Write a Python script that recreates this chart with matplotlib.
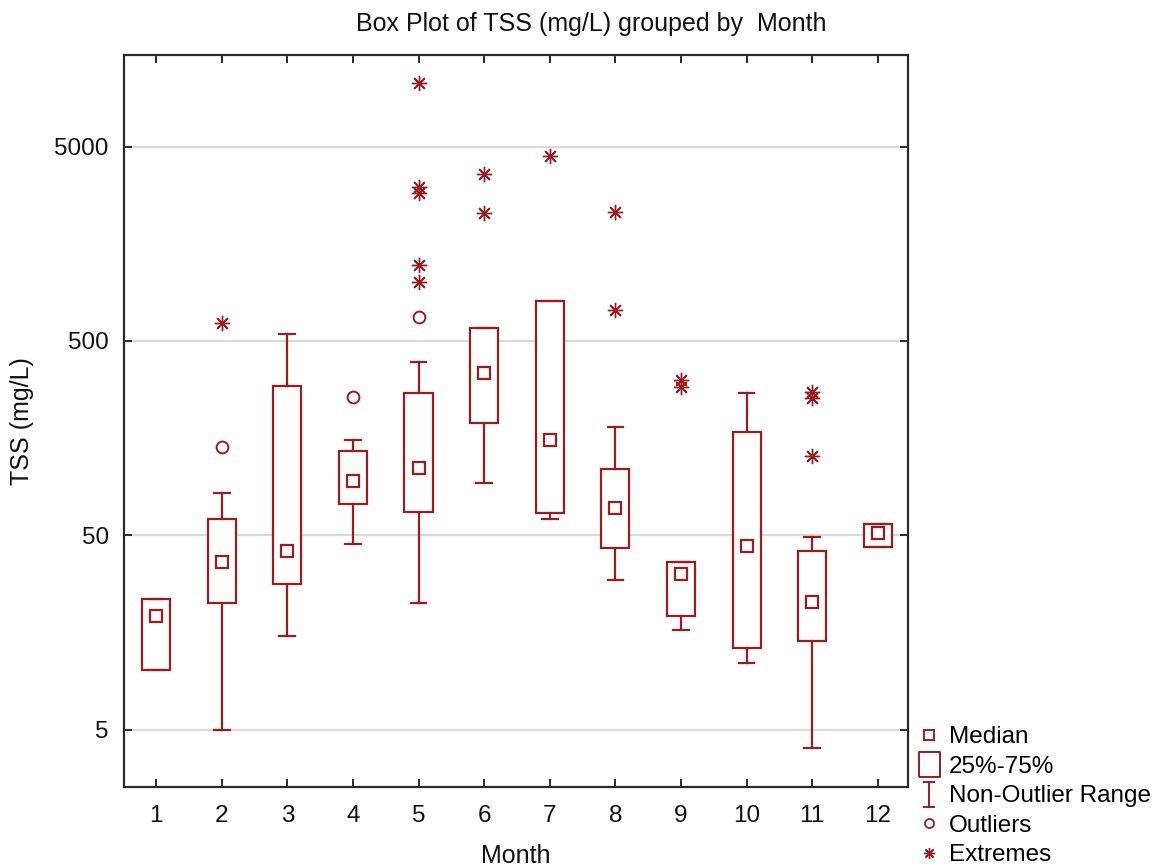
import matplotlib
matplotlib.use("Agg")
import matplotlib.pyplot as plt
from matplotlib.lines import Line2D
from matplotlib.path import Path
from matplotlib.ticker import NullLocator, FixedLocator, FixedFormatter

plt.rcParams['font.family'] = ['Liberation Sans', 'DejaVu Sans']

# box statistics per month (mg/L)
months = [1, 2, 3, 4, 5, 6, 7, 8, 9, 10, 11, 12]
medians = [19.2, 36.5, 41.4, 95, 110.4, 343, 154.5, 69.0, 31.4, 44.1, 22.7, 51.1]
q1 = [10.1, 22.3, 28.1, 72.0, 66.0, 188, 64.8, 43.1, 19.1, 13.1, 14.2, 43.3]
q3 = [23.4, 60.5, 293, 136, 269, 580, 803, 109.9, 36.4, 169, 41.3, 56.8]
whis_lo = [10.1, 5.0, 15.1, 44.8, 22.3, 93, 60.5, 29.4, 16.2, 11.0, 4.0, 43.3]
whis_hi = [23.4, 82.1, 545, 154.5, 388, 580, 803, 179.5, 36.4, 269, 49.1, 56.8]

outlier_month = [2, 4, 5]
outlier_val = [142.7, 258, 660]

extreme_month = [2, 5, 5, 5, 5, 5, 6, 6, 7, 8, 8, 9, 9, 11, 11, 11]
extreme_val = [618, 10600, 3110, 2900, 1230, 1010, 3620, 2270, 4480,
               2300, 721, 315, 290, 274, 253, 128]

ytick_vals = [5, 50, 500, 5000]
ytick_labels = ['5', '50', '500', '5000']

red = '#9b1c1f'
lw = 1.6

fig = plt.figure(figsize=(11.65, 8.67), dpi=100)
ax = fig.add_axes([124 / 1165, 1 - 787 / 867, 784 / 1165, 732 / 867])

stats = []
for i in range(len(months)):
    stats.append(dict(med=medians[i], q1=q1[i], q3=q3[i],
                      whislo=whis_lo[i], whishi=whis_hi[i], fliers=[]))

ax.bxp(stats, positions=months, widths=0.43, capwidths=0.24,
       patch_artist=True, showfliers=False,
       boxprops=dict(facecolor='white', edgecolor=red, linewidth=lw),
       whiskerprops=dict(color=red, linewidth=lw),
       capprops=dict(color=red, linewidth=lw),
       medianprops=dict(linewidth=0),
       zorder=3)

# medians as hollow squares
ax.plot(months, medians, 's', ms=8.5, mfc='white', mec=red, mew=lw,
        ls='none', zorder=4)
ax.plot(outlier_month, outlier_val, 'o', ms=8.5, mfc='none', mec=red,
        mew=1.4, ls='none', zorder=4)
ax.plot(extreme_month, extreme_val, marker=(8, 2, 0), ms=11, color=red,
        mew=1.0, ls='none', zorder=4)

ax.set_yscale('log')
ax.set_ylim(2.53, 14800)
ax.set_xlim(0.51, 12.46)
ax.yaxis.set_major_locator(FixedLocator(ytick_vals))
ax.yaxis.set_major_formatter(FixedFormatter(ytick_labels))
ax.yaxis.set_minor_locator(NullLocator())
ax.set_xticks(months)
ax.set_xticklabels([str(m) for m in months])

ax.grid(axis='y', color='#d9d9d9', linewidth=1.6, zorder=0)
ax.set_axisbelow(True)

for s in ax.spines.values():
    s.set_color('#2a2a2a')
    s.set_linewidth(1.6)

ax.tick_params(direction='in', length=6, width=1.4, colors='#2a2a2a',
               top=True, right=True, labelsize=17.5, labelcolor='#111111')
ax.tick_params(axis='x', pad=13)
ax.tick_params(axis='y', pad=11)

ax.set_xlabel('Month', fontsize=18, color='#111111')
ax.set_ylabel('TSS (mg/L)', fontsize=18, color='#111111')
ax.xaxis.set_label_coords(0.5, -0.094)
ax.yaxis.set_label_coords(-0.13, 0.5)
ax.xaxis.label.set_va('center')
ax.yaxis.label.set_va('center')

fig.text(591 / 1165, 1 - 24 / 867, 'Box Plot of TSS (mg/L) grouped by  Month',
         ha='center', va='center', fontsize=18, color='#111111')

# legend symbols
ibeam = Path([(-0.5, 1), (0.5, 1), (0, 1), (0, -1), (-0.5, -1), (0.5, -1)],
             [Path.MOVETO, Path.LINETO, Path.MOVETO, Path.LINETO,
              Path.MOVETO, Path.LINETO])
rect = Path([(-0.42, -0.5), (0.42, -0.5), (0.42, 0.5), (-0.42, 0.5), (-0.42, -0.5)])
handles = [
    Line2D([], [], marker='s', ms=7, mfc='white', mec=red, mew=1.4, ls='none'),
    Line2D([], [], marker=rect, ms=18, mfc='white', mec=red, mew=1.4, ls='none'),
    Line2D([], [], marker=ibeam, ms=18, mfc='none', mec=red, mew=1.4, ls='none'),
    Line2D([], [], marker='o', ms=6.5, mfc='white', mec=red, mew=1.3, ls='none'),
    Line2D([], [], marker=(8, 2, 0), ms=8, color=red, mew=1.0, ls='none'),
]
labels = ['Median', '25%-75%', 'Non-Outlier Range', 'Outliers', 'Extremes']
fig.legend(handles, labels, loc='upper left',
           bbox_to_anchor=(917 / 1165, 1 - 726 / 867), frameon=False,
           fontsize=17.5, handlelength=1.0, handletextpad=0.3,
           labelspacing=0.31, borderpad=0, borderaxespad=0)

fig.savefig('out.png', dpi=100)
